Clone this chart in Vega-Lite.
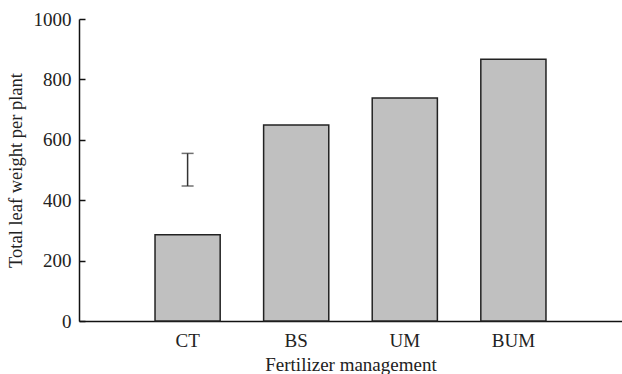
{
  "$schema": "https://vega.github.io/schema/vega-lite/v6.json",
  "width": 543,
  "height": 302,
  "autosize": {"type": "none"},
  "padding": {"left": 79, "top": 19, "right": 0, "bottom": 53},
  "background": "white",
  "config": {
    "view": {"stroke": null},
    "font": "Liberation Serif",
    "axis": {"labelFont": "Liberation Serif", "titleFont": "Liberation Serif", "labelColor": "#222", "titleColor": "#222", "domainColor": "#111", "tickColor": "#111", "grid": false}
  },
  "datasets": {
    "bars": [
      {"treatment": "CT", "weight": 286},
      {"treatment": "BS", "weight": 649},
      {"treatment": "UM", "weight": 738},
      {"treatment": "BUM", "weight": 867}
    ],
    "lsd": [
      {"treatment": "CT", "low": 447, "high": 555}
    ]
  },
  "layer": [
    {
      "data": {"name": "bars"},
      "mark": {"type": "bar", "fill": "#c0c0c0", "stroke": "#222", "strokeWidth": 1.5},
      "encoding": {
        "x": {"field": "treatment", "type": "nominal", "sort": ["CT", "BS", "UM", "BUM"],
          "scale": {"paddingInner": 0.4, "paddingOuter": 0.7},
          "axis": {"title": "Fertilizer management", "labelAngle": 0, "ticks": false, "labelFontSize": 19, "titleFontSize": 19, "titleFontWeight": "normal", "labelPadding": 10, "titlePadding": 5, "domainWidth": 1.5}},
        "y": {"field": "weight", "type": "quantitative",
          "scale": {"domain": [0, 1000], "nice": false},
          "axis": {"title": "Total leaf weight per plant", "values": [0, 200, 400, 600, 800, 1000], "format": "d", "tickSize": -6, "tickWidth": 1.5, "domainWidth": 1.5, "labelFontSize": 19, "titleFontSize": 18.5, "titleFontWeight": "normal", "labelPadding": 14, "titlePadding": 8}}
      }
    },
    {
      "data": {"name": "lsd"},
      "mark": {"type": "rule", "color": "#333", "strokeWidth": 1.5},
      "encoding": {
        "x": {"field": "treatment", "type": "nominal", "sort": ["CT", "BS", "UM", "BUM"]},
        "y": {"field": "low", "type": "quantitative"},
        "y2": {"field": "high"}
      }
    },
    {
      "data": {"name": "lsd"},
      "mark": {"type": "tick", "color": "#333", "thickness": 1.5, "size": 12, "orient": "horizontal"},
      "encoding": {
        "x": {"field": "treatment", "type": "nominal", "sort": ["CT", "BS", "UM", "BUM"]},
        "y": {"field": "low", "type": "quantitative"}
      }
    },
    {
      "data": {"name": "lsd"},
      "mark": {"type": "tick", "color": "#333", "thickness": 1.5, "size": 12, "orient": "horizontal"},
      "encoding": {
        "x": {"field": "treatment", "type": "nominal", "sort": ["CT", "BS", "UM", "BUM"]},
        "y": {"field": "high", "type": "quantitative"}
      }
    }
  ]
}
